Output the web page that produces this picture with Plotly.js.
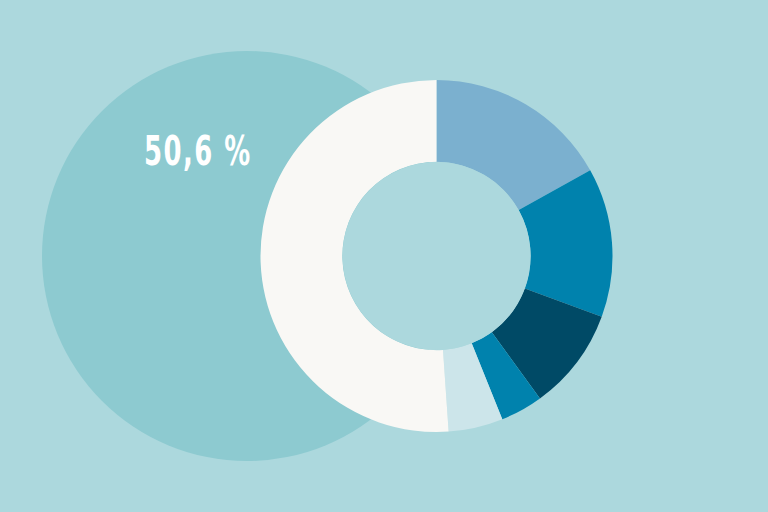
<!DOCTYPE html>
<html>
<head>
<meta charset="utf-8">
<script src="https://cdn.plot.ly/plotly-3.0.1.min.js"></script>
<style>
html,body{margin:0;padding:0;background:#acd8dd;}
#chart{width:768px;height:512px;}
.annotation-text{transform-box:fill-box;transform-origin:center;transform:scaleX(0.72);}
</style>
</head>
<body>
<div id="chart"></div>
<script>
const categories = ["Segment A", "Segment B", "Segment C", "Segment D", "Segment E", "Segment F"];
const shares = [16.9, 13.7, 9.4, 3.9, 5.0, 51.1];
const sliceColors = ["#7bb0cf", "#0082ad", "#004a66", "#0082ad", "#cce5ea", "#f9f8f5"];
const highlightLabel = "50,6 %";

const trace = {
  type: "pie", labels: categories, values: shares, sort: false, direction: "clockwise", rotation: 0,
  hole: 0.535, textinfo: "none", hoverinfo: "label+percent",
  marker: { colors: sliceColors, line: { width: 0 } },
  domain: { x: [260.5/768, 612.5/768], y: [80/512, 432/512] }, showlegend: false
};

const layout = {
  width: 768, height: 512, margin: { l: 0, r: 0, t: 0, b: 0 },
  paper_bgcolor: "#acd8dd", plot_bgcolor: "#acd8dd", showlegend: false,
  shapes: [{
    type: "circle", xref: "paper", yref: "paper", layer: "below",
    x0: 42/768, x1: 452/768, y0: (512-461)/512, y1: (512-51)/512,
    fillcolor: "#8dcad0", line: { width: 0 }
  },{
    type: "circle", xref: "paper", yref: "paper", layer: "above",
    x0: (436.5-94)/768, x1: (436.5+94)/768, y0: (256-94)/512, y1: (256+94)/512,
    fillcolor: "#acd8dd", line: { width: 0 }
  }],
  annotations: [{
    xref: "paper", yref: "paper", x: 198/768, y: (512-151)/512,
    xanchor: "center", yanchor: "middle", showarrow: false,
    text: '<span style="letter-spacing:2px">' + highlightLabel + '</span>',
    font: { family: "DejaVu Sans Condensed", size: 40, color: "#ffffff", weight: "bold" }
  }]
};
Plotly.newPlot("chart", [trace], layout, { displayModeBar: false, staticPlot: true });
</script>
</body>
</html>
